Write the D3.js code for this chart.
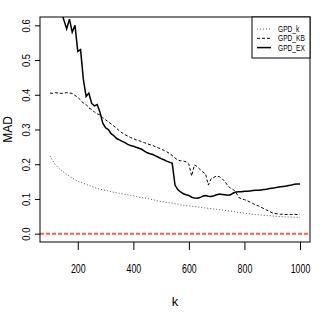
<!DOCTYPE html>
<html>
<head>
<meta charset="utf-8">
<script src="https://cdn.jsdelivr.net/npm/d3@7"></script>
<style>
  body { margin: 0; background: #fff; }
  text { font-family: "Liberation Sans", Arial, sans-serif; fill: #000; }
</style>
</head>
<body>
<div id="chart"></div>
<script>
const kValues = [100, 110, 120, 130, 140, 150, 160, 170, 180, 190,
  200, 210, 220, 230, 240, 250, 260, 270, 280, 290,
  300, 310, 320, 330, 340, 350, 360, 370, 380, 390,
  400, 410, 420, 430, 440, 450, 460, 470, 480, 490,
  500, 510, 520, 530, 540, 550, 560, 570, 580, 590,
  600, 610, 620, 630, 640, 650, 660, 670, 680, 690,
  700, 710, 720, 730, 740, 750, 760, 770, 780, 790,
  800, 810, 820, 830, 840, 850, 860, 870, 880, 890,
  900, 910, 920, 930, 940, 950, 960, 970, 980, 990, 1000];

const gpdK = [0.224, 0.210, 0.198, 0.190, 0.183, 0.177, 0.171, 0.166, 0.160, 0.155,
  0.151, 0.148, 0.145, 0.142, 0.139, 0.136, 0.133, 0.130, 0.128, 0.126,
  0.125, 0.123, 0.121, 0.119, 0.118, 0.116, 0.115, 0.113, 0.112, 0.110,
  0.109, 0.107, 0.105, 0.104, 0.103, 0.101, 0.100, 0.098, 0.096, 0.094,
  0.093, 0.092, 0.090, 0.089, 0.088, 0.086, 0.085, 0.083, 0.082, 0.081,
  0.080, 0.079, 0.078, 0.077, 0.076, 0.075, 0.074, 0.073, 0.072, 0.071,
  0.070, 0.069, 0.068, 0.067, 0.066, 0.065, 0.064, 0.062, 0.061, 0.060,
  0.059, 0.058, 0.057, 0.056, 0.055, 0.055, 0.054, 0.053, 0.052, 0.052,
  0.051, 0.050, 0.050, 0.049, 0.049, 0.048, 0.048, 0.048, 0.047, 0.047, 0.047];

const gpdKB = [0.405, 0.404, 0.406, 0.405, 0.404, 0.405, 0.406, 0.405, 0.404, 0.398,
  0.393, 0.385, 0.376, 0.372, 0.362, 0.358, 0.350, 0.345, 0.342, 0.334,
  0.328, 0.322, 0.316, 0.310, 0.303, 0.296, 0.290, 0.285, 0.281, 0.277,
  0.274, 0.270, 0.268, 0.265, 0.262, 0.259, 0.256, 0.254, 0.250, 0.247,
  0.244, 0.240, 0.236, 0.231, 0.225, 0.218, 0.212, 0.210, 0.209, 0.207,
  0.200, 0.166, 0.198, 0.193, 0.185, 0.178, 0.172, 0.140, 0.158, 0.162,
  0.166, 0.164, 0.158, 0.150, 0.138, 0.131, 0.127, 0.118, 0.104, 0.100,
  0.098, 0.095, 0.091, 0.087, 0.083, 0.080, 0.076, 0.072, 0.068, 0.064,
  0.060, 0.058, 0.057, 0.056, 0.056, 0.055, 0.056, 0.055, 0.056, 0.055, 0.056];

const gpdEX = [0.700, 0.690, 0.680, 0.660, 0.640, 0.615, 0.590, 0.618, 0.580, 0.600,
  0.525, 0.530, 0.445, 0.395, 0.405, 0.375, 0.368, 0.372, 0.350, 0.318,
  0.305, 0.300, 0.288, 0.282, 0.274, 0.270, 0.266, 0.262, 0.257, 0.254,
  0.252, 0.249, 0.246, 0.243, 0.238, 0.233, 0.230, 0.228, 0.224, 0.220,
  0.216, 0.213, 0.209, 0.206, 0.203, 0.140, 0.127, 0.120, 0.115, 0.112,
  0.110, 0.105, 0.103, 0.102, 0.104, 0.108, 0.110, 0.108, 0.107, 0.109,
  0.112, 0.114, 0.113, 0.112, 0.111, 0.112, 0.117, 0.120, 0.121, 0.121,
  0.122, 0.122, 0.123, 0.124, 0.125, 0.125, 0.126, 0.127, 0.128, 0.130,
  0.131, 0.132, 0.134, 0.135, 0.136, 0.137, 0.139, 0.140, 0.142, 0.143, 0.143];

const xTicks = [200, 400, 600, 800, 1000];
const yTicks = [0.0, 0.1, 0.2, 0.3, 0.4, 0.5, 0.6];
const seriesNames = ["GPD_k", "GPD_KB", "GPD_EX"];

const width = 320;
const height = 327;
const margin = { top: 17, right: 10, bottom: 85, left: 40 };
const plotW = width - margin.left - margin.right;
const plotH = height - margin.top - margin.bottom;

const svg = d3.select("#chart")
  .append("svg")
  .attr("width", width)
  .attr("height", height);

const x = d3.scaleLinear().domain([64, 1036]).range([0, plotW]);
const y = d3.scaleLinear().domain([-0.024, 0.624]).range([plotH, 0]);

const g = svg.append("g")
  .attr("transform", `translate(${margin.left},${margin.top})`);

svg.append("clipPath")
  .attr("id", "plot-clip")
  .append("rect")
  .attr("x", 0)
  .attr("y", 0)
  .attr("width", plotW)
  .attr("height", plotH);

// axes, R style: no domain line, box drawn separately
const xAxis = g.append("g")
  .attr("transform", `translate(0,${plotH})`)
  .call(d3.axisBottom(x).tickValues(xTicks).tickSize(8).tickSizeOuter(0).tickFormat(d3.format("d")));
xAxis.select(".domain").remove();
xAxis.selectAll("text")
  .attr("y", 0)
  .attr("dy", 0)
  .attr("font-size", "13px")
  .attr("transform", "translate(0,31) scale(0.68,1)");

const yAxis = g.append("g")
  .call(d3.axisLeft(y).tickValues(yTicks).tickSize(5).tickSizeOuter(0).tickFormat(d3.format(".1f")));
yAxis.select(".domain").remove();
yAxis.selectAll("text")
  .attr("x", 0)
  .attr("y", 0)
  .attr("dy", 0)
  .attr("text-anchor", "middle")
  .attr("font-size", "10.5px")
  .attr("transform", "translate(-10,0) rotate(-90) scale(0.9,1)");

g.selectAll(".tick line").attr("stroke", "#000");
g.selectAll(".tick text").style("font-family", "'Liberation Sans', Arial, sans-serif");

// reference line at zero
g.append("line")
  .attr("x1", 0)
  .attr("x2", plotW)
  .attr("y1", y(0))
  .attr("y2", y(0))
  .attr("stroke", "#ff5a5a")
  .attr("stroke-width", 2)
  .attr("stroke-dasharray", "4,2");

const lineFor = (vals) => d3.line()
  .x((d, i) => x(kValues[i]))
  .y(d => y(d))(vals);

const lines = g.append("g").attr("clip-path", "url(#plot-clip)");

lines.append("path")
  .attr("d", lineFor(gpdK))
  .attr("fill", "none")
  .attr("stroke", "#555")
  .attr("stroke-width", 1)
  .attr("stroke-dasharray", "1,2");

lines.append("path")
  .attr("d", lineFor(gpdKB))
  .attr("fill", "none")
  .attr("stroke", "#000")
  .attr("stroke-width", 1)
  .attr("stroke-dasharray", "3,2");

lines.append("path")
  .attr("d", lineFor(gpdEX))
  .attr("fill", "none")
  .attr("stroke", "#000")
  .attr("stroke-width", 1.5);

// plot frame
g.append("rect")
  .attr("width", plotW)
  .attr("height", plotH)
  .attr("fill", "none")
  .attr("stroke", "#000")
  .attr("stroke-width", 1);

// axis titles
svg.append("text")
  .attr("text-anchor", "middle")
  .attr("font-size", "12px")
  .attr("transform", `translate(12,${margin.top + plotH / 2}) rotate(-90)`)
  .text("MAD");

svg.append("text")
  .attr("text-anchor", "middle")
  .attr("font-size", "13px")
  .attr("transform", `translate(${margin.left + plotW / 2},306)`)
  .text("k");

// legend
const legend = g.append("g")
  .attr("transform", `translate(${plotW - 58},0)`);

legend.append("rect")
  .attr("width", 58)
  .attr("height", 41)
  .attr("fill", "#fff")
  .attr("stroke", "#000");

const legendStyles = [
  { color: "#555", dash: "1,2", w: 1 },
  { color: "#000", dash: "3,2", w: 1 },
  { color: "#000", dash: null, w: 1.5 }
];

seriesNames.forEach((name, i) => {
  const rowY = 12 + i * 9.3;
  legend.append("line")
    .attr("x1", 5)
    .attr("x2", 19)
    .attr("y1", rowY)
    .attr("y2", rowY)
    .attr("stroke", legendStyles[i].color)
    .attr("stroke-width", legendStyles[i].w)
    .attr("stroke-dasharray", legendStyles[i].dash);
  legend.append("text")
    .attr("font-size", "8.5px")
    .attr("transform", `translate(26,${rowY + 3}) scale(0.78,1)`)
    .text(name);
});
</script>
</body>
</html>
